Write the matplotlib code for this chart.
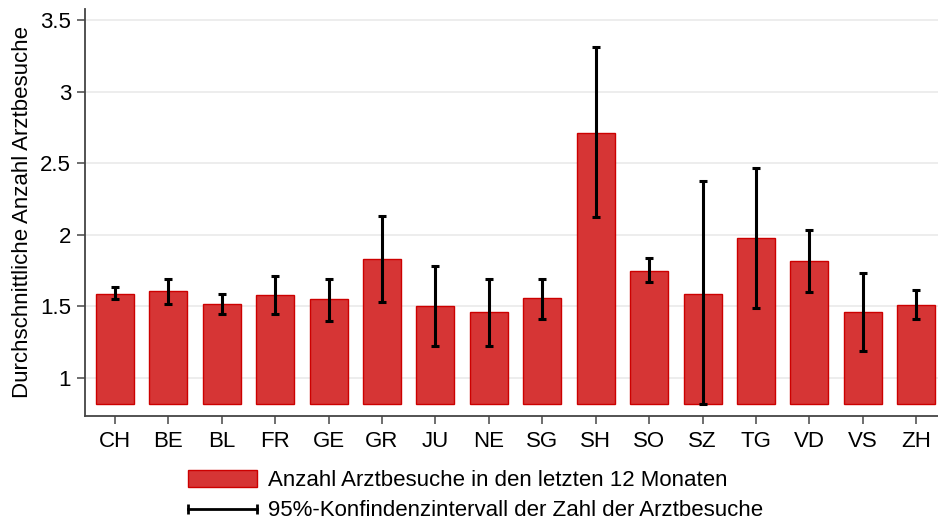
import matplotlib.pyplot as plt
from matplotlib.lines import Line2D
from matplotlib.patches import Patch
from matplotlib.legend_handler import HandlerBase

# Kantone und durchschnittliche Anzahl Arztbesuche mit 95%-KI
kantone = ["CH", "BE", "BL", "FR", "GE", "GR", "JU", "NE",
           "SG", "SH", "SO", "SZ", "TG", "VD", "VS", "ZH"]
mittelwert = [1.59, 1.61, 1.52, 1.58, 1.55, 1.83, 1.50, 1.46,
              1.56, 2.71, 1.75, 1.59, 1.98, 1.82, 1.46, 1.51]
ki_unten = [1.55, 1.52, 1.45, 1.45, 1.40, 1.53, 1.22, 1.22,
            1.415, 2.125, 1.67, 0.815, 1.49, 1.60, 1.19, 1.415]
ki_oben = [1.635, 1.695, 1.59, 1.71, 1.69, 2.13, 1.78, 1.69,
           1.69, 3.31, 1.835, 2.375, 2.47, 2.035, 1.73, 1.615]
y_ticks = [1, 1.5, 2, 2.5, 3, 3.5]
y_ticklabels = ["1", "1.5", "2", "2.5", "3", "3.5"]

basis = 0.816  # Balken beginnen am unteren Skalenrand

plt.rcParams["font.family"] = ["Liberation Sans", "DejaVu Sans"]

fig = plt.figure(figsize=(9.38, 5.21), dpi=100)
ax = fig.add_axes([0.0906, 0.202, 0.909, 0.781])

x = range(len(kantone))
hoehe = [m - basis for m in mittelwert]
ax.bar(x, hoehe, bottom=basis, width=0.71, color="#d63535",
       edgecolor="#cc0000", linewidth=1.0, zorder=2)

err_lo = [m - u for m, u in zip(mittelwert, ki_unten)]
err_hi = [o - m for m, o in zip(mittelwert, ki_oben)]
ax.errorbar(x, mittelwert, yerr=[err_lo, err_hi], fmt="none", ecolor="black",
            elinewidth=2.2, capsize=3.0, capthick=2.2, zorder=3)

ax.set_ylim(0.736, 3.579)
ax.set_xlim(-0.56, 15.4)
ax.set_yticks(y_ticks)
ax.set_yticklabels(y_ticklabels)
ax.set_xticks(list(x))
ax.set_xticklabels(kantone)
ax.tick_params(axis="both", labelsize=16, length=6, width=1.2, color="#555555")
ax.tick_params(axis="y", pad=4)
ax.tick_params(axis="x", pad=5)
ax.set_ylabel("Durchschnittliche Anzahl Arztbesuche", fontsize=16, labelpad=5)

ax.grid(axis="y", color="#eaeaea", linewidth=1.2, zorder=0)
ax.set_axisbelow(True)
for side in ["top", "right"]:
    ax.spines[side].set_visible(False)
for side in ["left", "bottom"]:
    ax.spines[side].set_color("#444444")
    ax.spines[side].set_linewidth(1.3)


class HandlerKI(HandlerBase):
    # horizontale Linie mit Endkappen als Legendensymbol
    def create_artists(self, legend, orig_handle, xdescent, ydescent,
                       width, height, fontsize, trans):
        y = height / 2 - ydescent
        linie = Line2D([-xdescent, width - xdescent], [y, y], color="black",
                       linewidth=2.0, transform=trans)
        kappen = Line2D([-xdescent, width - xdescent], [y, y], linestyle="none",
                        marker="|", markersize=7, markeredgewidth=2.0,
                        color="black", transform=trans)
        return [linie, kappen]


ki_handle = Line2D([], [], color="black")
handles = [Patch(facecolor="#d63535", edgecolor="#cc0000"), ki_handle]
labels = ["Anzahl Arztbesuche in den letzten 12 Monaten",
          "95%-Konfindenzintervall der Zahl der Arztbesuche"]
fig.legend(handles, labels, loc="upper left", bbox_to_anchor=(188 / 938, 1 - 470 / 521),
           frameon=False, fontsize=16, handlelength=3.1, handleheight=0.81,
           handletextpad=0.5, labelspacing=0.4, borderpad=0, borderaxespad=0,
           handler_map={ki_handle: HandlerKI()})

fig.savefig("out.png", dpi=100)
